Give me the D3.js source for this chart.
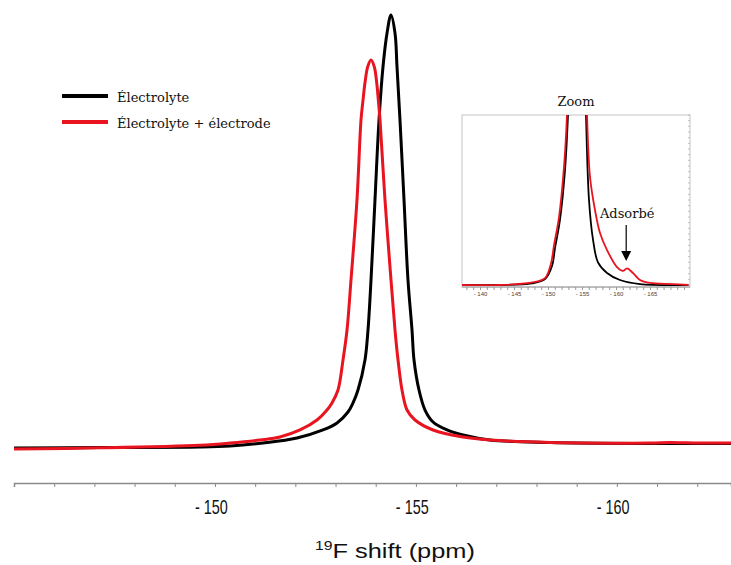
<!DOCTYPE html>
<html>
<head>
<meta charset="utf-8">
<script src="https://cdn.jsdelivr.net/npm/d3@7"></script>
<style>
  html, body { margin: 0; padding: 0; background: #fff; }
  svg { display: block; }
</style>
</head>
<body>
<svg id="chart" width="731" height="565"></svg>
<script>
// ---------- DATA ----------
// Main spectrum: chemical shift (ppm) and intensity (arbitrary, black peak = 100)
const blackPpm = [-145.0, -147.14, -149.63, -150.374, -151.196, -152.042, -152.688, -153.037, -153.31, -153.435, -153.559, -153.733, -153.808, -153.883, -153.982, -154.082, -154.181, -154.281, -154.38, -154.48, -154.53, -154.604, -154.704, -154.803, -154.903, -154.953, -155.077, -155.227, -155.426, -155.774, -156.172, -156.844, -158.337, -160.825, -162.84];
const blackInt = [-0.23, -0.12, 0.0, 0.23, 0.93, 2.08, 3.94, 5.56, 8.1, 10.19, 13.19, 20.14, 27.08, 38.66, 57.2, 75.7, 88, 95.8, 100, 95.8, 88, 75.7, 57.2, 38.66, 27.08, 20.14, 13.19, 8.56, 5.79, 3.94, 2.78, 1.62, 1.04, 0.81, 0.81];

const redPpm = [-145.0, -147.14, -149.63, -150.374, -151.121, -151.618, -152.116, -152.539, -152.788, -152.912, -153.062, -153.186, -153.286, -153.385, -153.534, -153.634, -153.684, -153.733, -153.80, -153.883, -153.965, -154.025, -154.065, -154.107, -154.231, -154.38, -154.48, -154.555, -154.654, -154.779, -154.978, -155.426, -156.172, -156.844, -158.337, -160.825, -161.32, -162.06, -162.84];
const redInt = [-0.46, -0.2, 0.4, 0.9, 1.62, 2.31, 3.94, 6.25, 8.56, 10.19, 13.19, 20.14, 27.08, 38.66, 57.2, 75.7, 80.3, 84.3, 88, 89.6, 88, 84.3, 80.3, 75.7, 57.2, 38.66, 27.08, 20.14, 13.19, 8.56, 6.25, 3.94, 2.31, 1.62, 1.04, 0.93, 1.04, 0.93, 0.93];

// Inset ("Zoom"): same spectra, vertically magnified
const insetBlackPpm = [-137.35, -142.94, -147.65, -149.56, -150.59, -151.03, -151.76, -152.5, -152.94, -153.38, -154.35, -155.3, -155.59, -156.03, -156.62, -157.35, -158.68, -160.59, -163.53, -170.44, -170.7];
const insetBlackInt = [0, 0, 0.07, 0.26, 0.84, 1.63, 2.87, 5.07, 7.5, 12, 100, 12, 7.5, 3.75, 2.0, 1.0, 0.53, 0.22, 0.04, 0, 0];

const insetRedPpm = [-137.35, -142.94, -147.5, -149.56, -150.44, -150.88, -151.62, -152.35, -152.79, -153.2, -153.88, -155.4, -155.74, -156.18, -156.91, -157.65, -158.68, -160.15, -161.03, -161.62, -162.5, -163.53, -165.0, -168.38, -170.7];
const insetRedInt = [0, 0, 0.1, 0.3, 0.95, 1.75, 3.0, 5.2, 7.5, 12, 90, 12, 7.5, 4.76, 3.31, 2.29, 1.54, 0.79, 0.62, 0.73, 0.53, 0.22, 0.09, 0.04, 0];

const mainTicks = [-146, -147, -148, -149, -150, -151, -152, -153, -154, -155, -156, -157, -158, -159, -160, -161, -162];
const mainTickLabels = [-150, -155, -160];
const insetTickLabels = [-140, -145, -150, -155, -160, -165];

const legendLabels = ["Électrolyte", "Électrolyte + électrode"];
const seriesColors = ["#000000", "#e8141f"];
const axisTitleSup = "19";
const axisTitleMain = "F shift (ppm)";
const insetTitle = "Zoom";
const annotation = "Adsorbé";
const annotationPpm = -161.5;

// ---------- DRAWING ----------
const svg = d3.select("#chart");
const serif = "'DejaVu Serif', serif";
const sans = "'Liberation Sans', Arial, sans-serif";

// Main scales
const x = d3.scaleLinear().domain([-145.0, -162.84]).range([14, 731]);
const y = d3.scaleLinear().domain([0, 100]).range([447, 15]);

const line = d3.line().x(d => x(d[0])).y(d => y(d[1])).curve(d3.curveCatmullRom.alpha(0.5));

const mainSeries = [
  d3.zip(blackPpm, blackInt),
  d3.zip(redPpm, redInt)
];

svg.append("path").datum(mainSeries[0])
  .attr("d", line).attr("fill", "none")
  .attr("stroke", seriesColors[0]).attr("stroke-width", 3).attr("stroke-linejoin", "round");
svg.append("path").datum(mainSeries[1])
  .attr("d", line).attr("fill", "none")
  .attr("stroke", seriesColors[1]).attr("stroke-width", 3).attr("stroke-linejoin", "round");

// Main x axis
const axisY = 483;
const axis = d3.axisBottom(x)
  .tickValues(mainTicks)
  .tickSize(4)
  .tickFormat(d => mainTickLabels.includes(d) ? "- " + Math.abs(d) : "");
const gAxis = svg.append("g").attr("transform", `translate(0,${axisY})`).call(axis);
gAxis.select(".domain").attr("stroke", "#8a8a8a").attr("stroke-width", 1.5);
gAxis.selectAll(".tick line").attr("stroke", "#8a8a8a").attr("stroke-width", 1);
gAxis.selectAll(".tick text")
  .attr("font-family", sans).attr("font-size", 20).attr("fill", "#111")
  .attr("y", 31).attr("dy", 0)
  .attr("text-anchor", "end")
  .attr("x", 17)
  .attr("transform", "scale(0.72,1)");

// Axis title
const title = svg.append("text")
  .attr("x", 395).attr("y", 558)
  .attr("text-anchor", "middle")
  .attr("font-family", sans).attr("font-size", 21).attr("fill", "#111")
  .attr("textLength", 160).attr("lengthAdjust", "spacingAndGlyphs");
title.append("tspan").attr("font-size", 13).attr("dy", -8).text(axisTitleSup);
title.append("tspan").attr("dy", 8).text(axisTitleMain);

// Legend
const legendY = [96, 122];
legendLabels.forEach((lab, i) => {
  svg.append("line")
    .attr("x1", 62).attr("x2", 108)
    .attr("y1", legendY[i]).attr("y2", legendY[i])
    .attr("stroke", seriesColors[i]).attr("stroke-width", 4);
  svg.append("text")
    .attr("x", 117).attr("y", legendY[i] + 5.5)
    .attr("font-family", serif).attr("font-size", 13).attr("fill", "#111")
    .text(lab);
});

// ---------- Inset ----------
const ix0 = 462, ix1 = 690, iy0 = 115, iy1 = 287;
const xi = d3.scaleLinear().domain([-140, -165]).range([480, 650]);
const yi = d3.scaleLinear().domain([0, 7.5]).range([285, 115]);

svg.append("defs").append("clipPath").attr("id", "insetClip")
  .append("rect").attr("x", ix0).attr("y", iy0).attr("width", ix1 - ix0).attr("height", iy1 - iy0);

svg.append("rect")
  .attr("x", ix0).attr("y", iy0).attr("width", ix1 - ix0).attr("height", iy1 - iy0)
  .attr("fill", "#fff").attr("stroke", "#c4c4c4").attr("stroke-width", 1);

const iline = d3.line().x(d => xi(d[0])).y(d => yi(d[1])).curve(d3.curveCatmullRom.alpha(0.5));
const gi = svg.append("g").attr("clip-path", "url(#insetClip)");
gi.append("path").datum(d3.zip(insetBlackPpm, insetBlackInt))
  .attr("d", iline).attr("fill", "none").attr("stroke", seriesColors[0]).attr("stroke-width", 1.8);
gi.append("path").datum(d3.zip(insetRedPpm, insetRedInt))
  .attr("d", iline).attr("fill", "none").attr("stroke", seriesColors[1]).attr("stroke-width", 1.8);

// Inset bottom axis
const insetTicks = d3.range(-138, -171, -1);
const iaxis = d3.axisBottom(xi).tickValues(insetTicks).tickSize(3)
  .tickFormat(d => insetTickLabels.includes(d) ? "- " + Math.abs(d) : "");
const giAxis = svg.append("g").attr("transform", `translate(0,${iy1})`).call(iaxis);
giAxis.select(".domain").remove();
giAxis.append("line").attr("x1", ix0).attr("x2", ix1).attr("y1", 0).attr("y2", 0)
  .attr("stroke", "#9a9a9a").attr("stroke-width", 1);
giAxis.selectAll(".tick line").attr("stroke", "#9a9a9a");
giAxis.selectAll(".tick text").attr("font-family", sans).attr("font-size", 6)
  .attr("fill", "#444").attr("y", 9).attr("dy", 0);

// Inset right-side ticks
const yiTicks = d3.range(0, 7.6, 0.25);
svg.append("g").selectAll("line").data(yiTicks).join("line")
  .attr("x1", ix1 - 2).attr("x2", ix1)
  .attr("y1", d => yi(d)).attr("y2", d => yi(d))
  .attr("stroke", "#b0b0b0").attr("stroke-width", 0.8);

// Inset title
svg.append("text").attr("x", (ix0 + ix1) / 2 + 0).attr("y", 105.5)
  .attr("text-anchor", "middle").attr("font-family", serif).attr("font-size", 13)
  .attr("fill", "#111").text(insetTitle);

// Annotation with arrow
const ax = xi(annotationPpm);
svg.append("text").attr("x", ax + 1).attr("y", 218)
  .attr("text-anchor", "middle").attr("font-family", serif).attr("font-size", 13)
  .attr("fill", "#111").text(annotation);
svg.append("line").attr("x1", ax).attr("x2", ax).attr("y1", 225).attr("y2", 252)
  .attr("stroke", "#000").attr("stroke-width", 1.2);
svg.append("path")
  .attr("d", `M${ax - 5},251 L${ax + 5},251 L${ax},261 Z`)
  .attr("fill", "#000");
</script>
</body>
</html>
